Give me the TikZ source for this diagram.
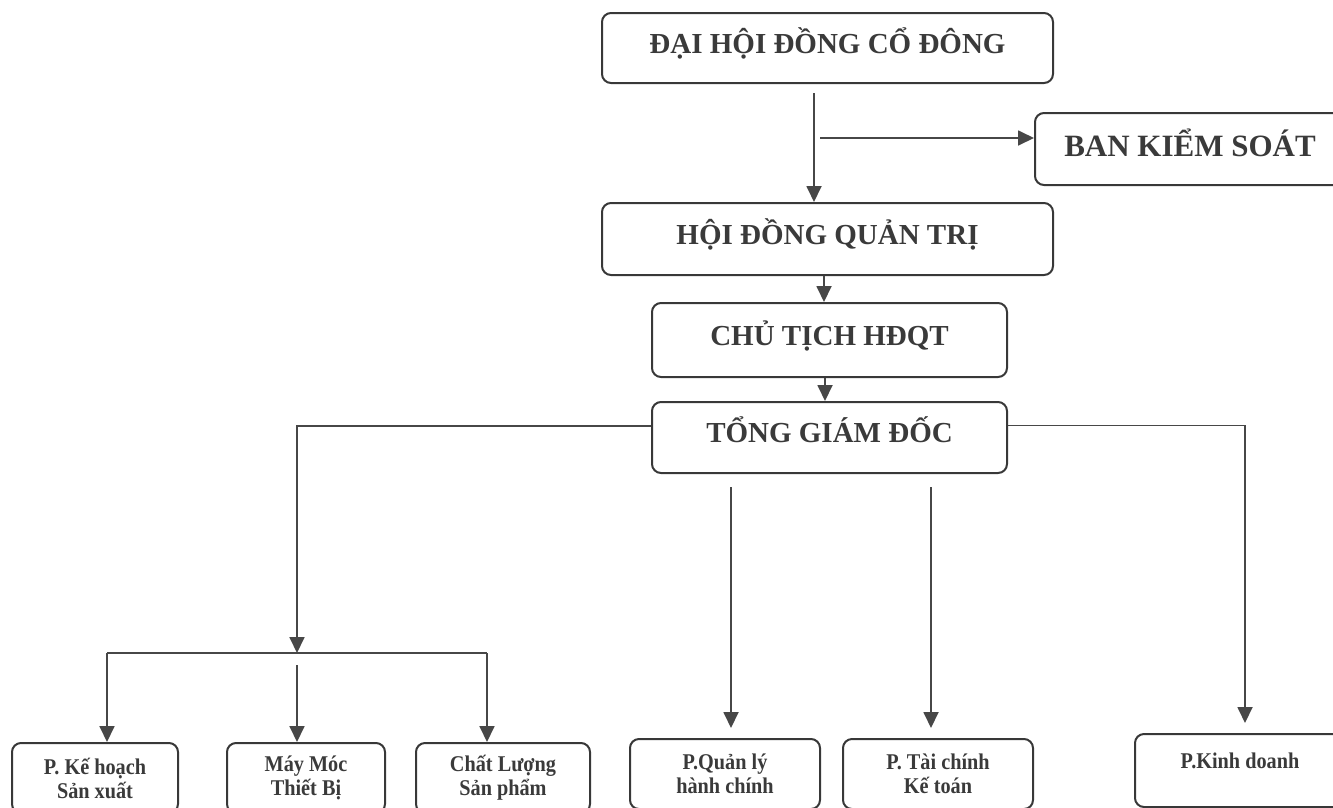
\documentclass[tikz,border=0pt]{standalone}
\usepackage{fontspec}
\setmainfont{Liberation Serif}
\newfontfamily\narrowfont[FakeStretch=0.9]{Liberation Serif}
\usetikzlibrary{arrows.meta, positioning}
\definecolor{linegray}{HTML}{474747}
\definecolor{boxgray}{HTML}{383838}
\definecolor{txtgray}{HTML}{3A3A3A}

\begin{document}
\begin{tikzpicture}[
    x=1pt, y=-1pt,
    topbox/.style={rectangle, draw=boxgray, line width=2pt, rounded corners=9pt, inner sep=0pt,
        font=\fontsize{29}{34}\selectfont\bfseries, text=txtgray, text height=19pt, text depth=9pt},
    botbox/.style={rectangle, draw=boxgray, line width=2pt, rounded corners=9pt, inner sep=0pt,
        anchor=north, minimum height=70pt, align=center,
        font=\narrowfont\fontsize{22.5}{24}\selectfont\bfseries, text=txtgray},
    line/.style={draw=linegray, line width=1.8pt},
    arrow/.style={line, -{Triangle[length=16pt, width=15pt]}}
]
    \useasboundingbox (0,0) rectangle (1333,807);
    \clip (0,0) rectangle (1333,807);

    % Top levels
    \node[topbox, minimum width=451pt, minimum height=70pt] (dh) at (827.5,48) {ĐẠI HỘI ĐỒNG CỔ ĐÔNG};
    \node[topbox, minimum width=310pt, minimum height=72pt, font=\fontsize{31}{36}\selectfont\bfseries,
        text height=20.5pt, text depth=6pt] (bks) at (1190,149) {BAN KIỂM SOÁT};
    \node[topbox, minimum width=451pt, minimum height=72pt] (hd) at (827.5,239) {HỘI ĐỒNG QUẢN TRỊ};
    \node[topbox, minimum width=355pt, minimum height=74pt] (ct) at (829.5,340) {CHỦ TỊCH HĐQT};
    \node[topbox, minimum width=355pt, minimum height=71pt] (tg) at (829.5,437.5) {TỔNG GIÁM ĐỐC};

    \coordinate (d1) at (814,93);
    \coordinate (d2) at (820,138);
    \draw[arrow] (d1) -- (d1 |- hd.north);
    \draw[arrow] (d2) -- (d2 -| bks.west);
    \draw[arrow] ([xshift=-3.5pt]hd.south) -- ([xshift=-3.5pt]hd.south |- ct.north);
    \draw[arrow] ([xshift=-4.5pt]ct.south) -- ([xshift=-4.5pt]ct.south |- tg.north);

    % Departments
    \node[botbox, minimum width=166pt] (kh) at (95,742) {P. Kế hoạch\\Sản xuất};
    \node[botbox, minimum width=158pt] (mm) at (306,742) {Máy Móc\\Thiết Bị};
    \node[botbox, minimum width=174pt] (cl) at (503,742) {Chất Lượng\\Sản phẩm};
    \node[botbox, minimum width=190pt] (ql) at (725,738) {P.Quản lý\\hành chính};
    \node[botbox, minimum width=190pt] (tc) at (938,738) {P. Tài chính\\Kế toán};
    \node[botbox, minimum width=210pt, minimum height=73pt, text height=14.5pt, text depth=19pt] (kd) at (1240,733) {P.Kinh doanh};

    % Left branch
    \coordinate (br) at (297,653);
    \coordinate (khx) at (107,653);
    \coordinate (clx) at (487,653);
    \coordinate (mmx) at (297,665);
    \draw[arrow] ([yshift=11.5pt]tg.west) -| (br);
    \draw[line] (khx) -- (clx);
    \draw[arrow] (khx) -- (khx |- kh.north);
    \draw[arrow] (mmx) -- (mmx |- mm.north);
    \draw[arrow] (clx) -- (clx |- cl.north);

    % Middle and right
    \coordinate (qlx) at (731,487);
    \coordinate (tcx) at (931,487);
    \draw[arrow, shorten >=10pt] (qlx) -- (qlx |- ql.north);
    \draw[arrow, shorten >=10pt] (tcx) -- (tcx |- tc.north);
    \draw[arrow, shorten >=10pt] ([yshift=12pt]tg.east) -| ([xshift=5pt]kd.north);
\end{tikzpicture}
\end{document}
